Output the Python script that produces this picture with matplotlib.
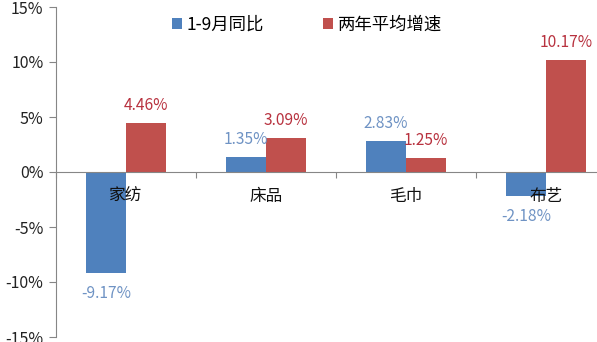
import numpy as np
import matplotlib
matplotlib.use('Agg')
import matplotlib.pyplot as plt
from matplotlib.ticker import FixedLocator, PercentFormatter

plt.rcParams['font.family'] = ['Noto Sans CJK SC', 'DejaVu Sans']
plt.rcParams['axes.unicode_minus'] = False

# data
# ------------------------------------------------------------------
categories = ['家纺', '床品', '毛巾', '布艺']
yoy = [-9.17, 1.35, 2.83, -2.18]          # 1-9月同比
avg_two_year = [4.46, 3.09, 1.25, 10.17]  # 两年平均增速
series_names = ['1-9月同比', '两年平均增速']

blue = '#4F81BD'
red = '#C0504D'
blue_text = '#6F93C4'
red_text = '#B8323F'

# figure
# ------------------------------------------------------------------
W, H = 597, 342
fig = plt.figure(figsize=(W / 100, H / 100), dpi=100)
# plot area is cut off on the right in the original
ax = fig.add_axes([56 / W, 5 / H, 560 / W, 330 / H])

x = np.arange(len(categories))
bw = 0.285
ax.bar(x + 0.5 - bw, yoy, bw, align='edge', color=blue, label=series_names[0], zorder=2)
ax.bar(x + 0.5, avg_two_year, bw, align='edge', color=red, label=series_names[1], zorder=2)

for i, v in enumerate(yoy):
    off = 12.5 if v >= 0 else -14.5
    ax.annotate(f'{v:.2f}%', (x[i] + 0.5 - bw / 2, v), xytext=(0, off),
                textcoords='offset points', ha='center', va='center',
                fontsize=11.2, color=blue_text)
for i, v in enumerate(avg_two_year):
    ax.annotate(f'{v:.2f}%', (x[i] + 0.5 + bw / 2, v), xytext=(0, 12.5),
                textcoords='offset points', ha='center', va='center',
                fontsize=11.2, color=red_text)

# category names sit just under the zero line, over the bars
for i, name in enumerate(categories):
    ax.annotate(name, (x[i] + 0.5, 0), xytext=(0, -17.5), textcoords='offset points',
                ha='center', va='center', fontsize=12, color='#111111', zorder=5)

ax.set_xlim(0, len(categories))
ax.set_ylim(-15, 15)
ax.set_yticks(np.arange(-15, 16, 5))
ax.yaxis.set_major_formatter(PercentFormatter(decimals=0))
ax.tick_params(axis='y', direction='out', length=5, width=0.8, color='#868686',
               labelsize=11.5, labelcolor='#222222', pad=4)

# category axis sits at zero
ax.spines['bottom'].set_position(('data', 0))
ax.spines['bottom'].set_color('#868686')
ax.spines['left'].set_color('#868686')
ax.spines['top'].set_visible(False)
ax.spines['right'].set_visible(False)
ax.xaxis.set_major_locator(FixedLocator(np.arange(len(categories) + 1)))
ax.xaxis.set_major_formatter(plt.NullFormatter())
ax.tick_params(axis='x', which='major', direction='out', length=4, width=0.8, color='#868686')

ax.legend(loc='upper left', bbox_to_anchor=(107 / 560, 1.0), ncol=2, frameon=False,
          fontsize=12.5, handlelength=0.6, handleheight=0.6, handletextpad=0.25,
          columnspacing=3.4, borderaxespad=0.1)

fig.savefig('out.png', dpi=100)
